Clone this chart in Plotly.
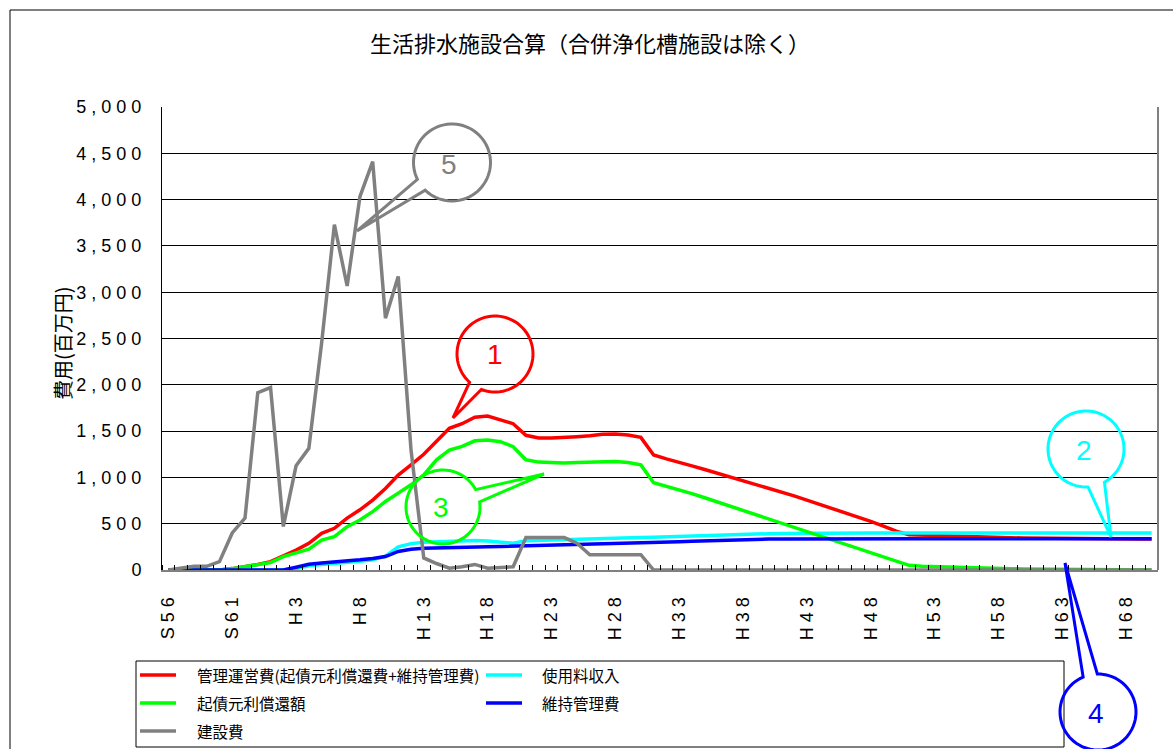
import math
import plotly.graph_objects as go

# ---------------- data ----------------
categories = ["S56", "S57", "S58", "S59", "S60", "S61", "S62", "S63"] + [f"H{i}" for i in range(1, 71)]

kanri_uneihi = [0, 0, 0, 0, 0,
                15, 35, 60, 90, 150,
                215, 288, 396, 450, 560,
                650, 755, 880, 1025, 1135,
                1250, 1390, 1530, 1580, 1650,
                1663, 1625, 1580, 1455, 1425,
                1425, 1430, 1440, 1450, 1465,
                1468, 1458, 1432, 1242, 1200,
                1165, 1125, 1085, 1045, 1005,
                965, 925, 885, 845, 800,
                755, 710, 665, 620, 575,
                525, 475, 420, 380, 375,
                370, 365, 360, 355, 352,
                350, 348, 346, 344, 342,
                341, 340, 339, 338, 337,
                336, 336, 335]

kisai_shokan = [0, 0, 0, 0, 0,
                15, 35, 55, 80, 144,
                185, 224, 324, 360, 468,
                540, 630, 740, 830, 920,
                1026, 1190, 1296, 1335, 1395,
                1404, 1386, 1332, 1190, 1165,
                1160, 1155, 1160, 1165, 1175,
                1172, 1160, 1135, 943, 905,
                870, 825, 780, 735, 690,
                645, 600, 555, 510, 465,
                420, 375, 330, 285, 240,
                190, 145, 100, 50, 40,
                35, 30, 26, 22, 19,
                16, 14, 12, 10, 8,
                7, 6, 5, 4, 3,
                2, 1, 0]

kensetsuhi = [0, 20, 40, 40, 90,
              400, 560, 1915, 1970, 470,
              1125, 1315, 2450, 3730, 3067,
              4032, 4410, 2720, 3170, 1300,
              130, 70, 20, 35, 60,
              20, 25, 35, 350, 350,
              350, 350, 290, 165, 165,
              165, 165, 165, 0, 0] + [0] * 38

shiyoryo = [0] * 10 + [15, 45, 58, 68, 80,
                       95, 110, 150, 250, 285,
                       300, 306, 315, 320, 318,
                       312, 305, 290, 315, 320,
                       325, 328, 332, 336, 340,
                       344, 348, 352, 355, 360,
                       365, 370, 375, 380, 385,
                       388, 390, 392, 394, 396,
                       397, 398, 398, 399, 399] + [400] * 23

iji_kanri = [0] * 10 + [30, 62, 75, 85, 95,
                        110, 125, 145, 200, 225,
                        235, 240, 245, 248, 250,
                        252, 255, 258, 262, 266,
                        270, 274, 278, 282, 286,
                        290, 293, 296, 299, 302,
                        306, 310, 315, 320, 325,
                        330, 332, 334, 335, 336] + [338] * 28

y_ticks = list(range(0, 5001, 500))

series = [
    ("管理運営費(起債元利償還費+維持管理費)", kanri_uneihi, "#FF0000"),
    ("使用料収入", shiyoryo, "#00FFFF"),
    ("起債元利償還額", kisai_shokan, "#00FF00"),
    ("維持管理費", iji_kanri, "#0000FF"),
    ("建設費", kensetsuhi, "#808080"),
]

# ---------------- figure ----------------
W, H = 1173, 749
ML, MR, MT, MB = 162, 15, 107, 179
PW, PH = W - ML - MR, H - MT - MB


def PX(px):
    return (px - ML) / PW


def PY(py):
    return (H - MB - py) / PH


ARIAL = "Arial, Liberation Sans, sans-serif"
CJK = "Noto Sans CJK JP, sans-serif"

xs = list(range(len(categories)))
fig = go.Figure()
for name, vals, col in series:
    fig.add_trace(go.Scatter(x=xs, y=vals, mode="lines", name=name,
                             line=dict(color=col, width=3.5), showlegend=False,
                             hoverinfo="skip"))

tick_x = list(range(0, len(categories), 5))
tick_x_text = [" ".join(categories[i]) for i in tick_x]
tick_y_text = [" ".join(f"{v:,}") for v in y_ticks]

shapes = []
annotations = []

# outer chart border
shapes.append(dict(type="rect", xref="paper", yref="paper",
                   x0=PX(10), x1=PX(1190), y0=PY(10), y1=PY(770),
                   line=dict(color="black", width=1), layer="below"))
# right border of plot area
shapes.append(dict(type="line", xref="paper", yref="paper",
                   x0=1, x1=1, y0=0, y1=1, line=dict(color="#808080", width=2)))


def bubble(cx, cy, r, a1, a2, tx, ty, col, label, lx, ly, n=72):
    span = 360 - (a2 - a1)
    pts = []
    for k in range(n + 1):
        ang = math.radians(a2 + span * k / n)
        pts.append((cx + r * math.cos(ang), cy + r * math.sin(ang)))
    pts.append((tx, ty))
    path = "M " + " L ".join(f"{PX(x):.5f},{PY(y):.5f}" for x, y in pts) + " Z"
    shapes.append(dict(type="path", xref="paper", yref="paper", path=path,
                       line=dict(color=col, width=3), fillcolor="rgba(0,0,0,0)"))
    annotations.append(dict(xref="paper", yref="paper", x=PX(lx), y=PY(ly),
                            text=label, showarrow=False, xanchor="center", yanchor="middle",
                            font=dict(family=ARIAL, size=28, color=col)))


bubble(495, 354, 38, 111, 132, 453, 418, "#FF0000", "1", 495, 354)
bubble(1086, 449, 38, 61, 87, 1111, 537, "#00FFFF", "2", 1084, 451)
bubble(443, 507, 37, -28, -8, 544, 474, "#00FF00", "3", 441, 507)
bubble(1098, 712, 38, -113, -91, 1065, 563, "#0000FF", "4", 1096, 713)
bubble(452, 162.5, 38.5, 134, 154, 357, 231, "#808080", "5", 449, 165)

# legend (drawn manually)
shapes.append(dict(type="rect", xref="paper", yref="paper",
                   x0=PX(136), x1=PX(1064), y0=PY(661), y1=PY(747),
                   line=dict(color="black", width=1), fillcolor="white", layer="below"))
leg_pos = [(140, 195, 675), (486, 540, 675), (140, 195, 703), (486, 540, 703), (140, 195, 731)]
for (name, vals, col), (lx, tx, ly) in zip(series, leg_pos):
    shapes.append(dict(type="line", xref="paper", yref="paper",
                       x0=PX(lx), x1=PX(lx + 36), y0=PY(ly), y1=PY(ly),
                       line=dict(color=col, width=3.5)))
    annotations.append(dict(xref="paper", yref="paper", x=PX(tx), y=PY(ly),
                            text=name, showarrow=False, xanchor="left", yanchor="middle",
                            font=dict(family=CJK, size=15.5, color="black")))

# title
annotations.append(dict(xref="paper", yref="paper", x=PX(590), y=PY(42),
                        text="生活排水施設合算（合併浄化槽施設は除く）", showarrow=False,
                        xanchor="center", yanchor="middle",
                        font=dict(family=CJK, size=22, color="black")))
# y-axis title
annotations.append(dict(xref="paper", yref="paper", x=PX(62), y=PY(343),
                        text="費用(百万円)", showarrow=False, textangle=-90,
                        xanchor="center", yanchor="middle",
                        font=dict(family=CJK, size=20, color="black")))

fig.update_layout(
    width=W, height=H,
    margin=dict(l=ML, r=MR, t=MT, b=MB, pad=0),
    paper_bgcolor="white", plot_bgcolor="white",
    shapes=shapes, annotations=annotations,
    xaxis=dict(range=[-0.5, len(categories) - 0.5], tickmode="array",
               tickvals=tick_x, ticktext=tick_x_text, tickangle=-90,
               tickfont=dict(family=ARIAL, size=18, color="black"),
               showgrid=False, zeroline=False, showline=True,
               linecolor="#808080", linewidth=2, ticks="",
               ticklabelstandoff=18,
               minor=dict(tickmode="linear", tick0=-0.5, dtick=1, ticks="inside",
                          ticklen=5, tickcolor="black", tickwidth=1, showgrid=False)),
    yaxis=dict(range=[0, 5000], tickmode="array", tickvals=y_ticks, ticktext=tick_y_text,
               tickfont=dict(family=ARIAL, size=18, color="black"),
               ticks="inside", ticklen=5, tickcolor="black",
               showgrid=True, gridcolor="black", gridwidth=1,
               zeroline=False, showline=True, linecolor="black", linewidth=1,
               ticklabelstandoff=16),
)

fig.write_html("out.html", config={"displayModeBar": False},
               post_script="document.body.style.margin='0';document.body.style.overflow='hidden';")
